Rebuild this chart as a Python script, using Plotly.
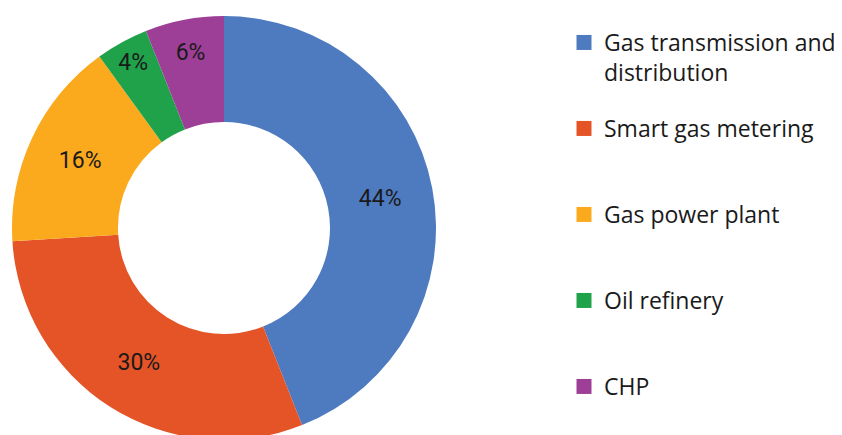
import plotly.graph_objects as go

categories = ["Gas transmission and distribution", "Smart gas metering",
              "Gas power plant", "Oil refinery", "CHP"]
legend_labels = ["Gas transmission and<br>distribution", "Smart gas metering",
                 "Gas power plant", "Oil refinery", "CHP"]
shares = [44, 30, 16, 4, 6]
colors = ["#4E7AC0", "#E55427", "#FBAA1E", "#1FA24A", "#9E3F97"]

FONT = "Open Sans"
W, H = 842, 435
LEG_TOPS = [13, 99, 185, 271, 357]  # legend entry top positions (px from top)

fig = go.Figure()
fig.add_trace(go.Pie(
    labels=categories, values=shares, sort=False, direction="clockwise",
    rotation=0, hole=0.5,
    marker=dict(colors=colors, line=dict(width=0)),
    textinfo="percent", textposition="inside",
    insidetextorientation="horizontal",
    textfont=dict(family="Roboto", size=23, color="#1a1a1a"),
    showlegend=False, hoverinfo="label+percent",
    domain=dict(x=[4 / W, 428 / W], y=[3 / H, 427 / H]),
))

layout_legends = {}
for i, (lab, col, top) in enumerate(zip(legend_labels, colors, LEG_TOPS)):
    key = "legend" if i == 0 else f"legend{i + 1}"
    fig.add_trace(go.Scatter(
        x=[None], y=[None], mode="markers", name=lab,
        marker=dict(symbol="square", size=15, color=col),
        showlegend=True, legend=key,
    ))
    layout_legends[key] = dict(
        x=556 / W, xanchor="left", y=1 - top / H, yanchor="top",
        font=dict(family=FONT, size=23, color="#1a1a1a"),
        valign="top", itemsizing="trace", bgcolor="rgba(0,0,0,0)",
    )

fig.update_layout(
    width=W, height=H,
    margin=dict(l=0, r=0, t=0, b=0),
    paper_bgcolor="white", plot_bgcolor="white",
    xaxis=dict(visible=False), yaxis=dict(visible=False),
    uniformtext=dict(minsize=23, mode="show"),
    **layout_legends,
)

fig.write_html("out.html")
